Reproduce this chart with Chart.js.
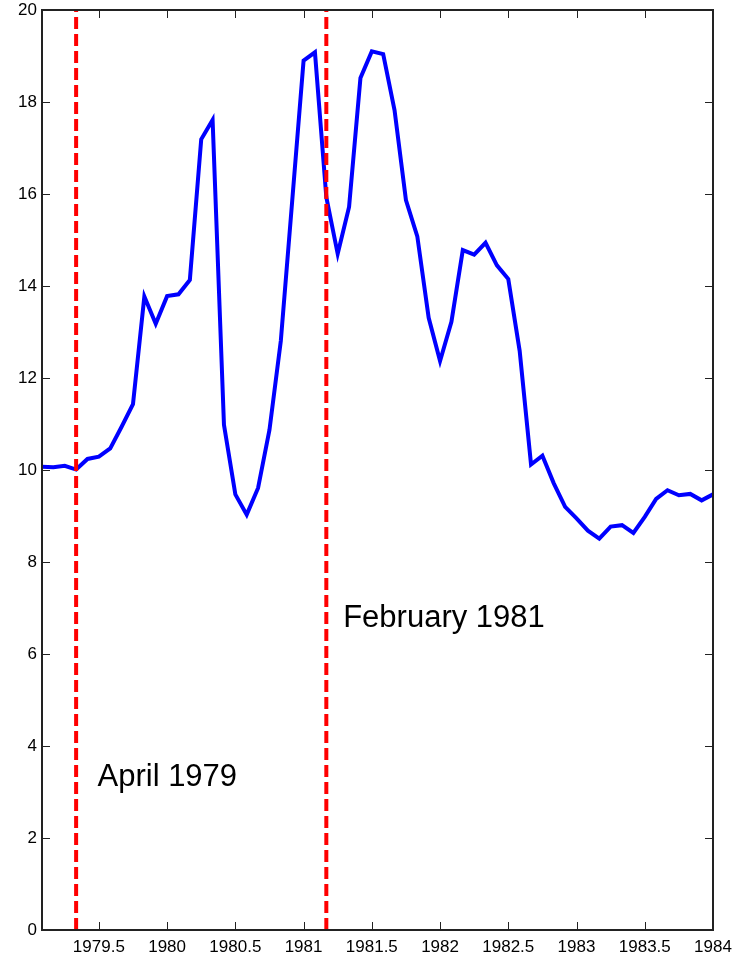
<!DOCTYPE html>
<html>
<head>
<meta charset="utf-8">
<script src="https://cdn.jsdelivr.net/npm/chart.js@4/dist/chart.umd.min.js"></script>
<style>
  html, body { margin: 0; padding: 0; background: #fff; }
  #wrap { width: 746px; height: 957px; }
</style>
</head>
<body>
<div id="wrap"><canvas id="rateChart" width="746" height="957"></canvas></div>
<script>
// monthly values, January 1979 .. December 1983 (month m plotted at year + m/12)
const startYear = 1979;
const rates = [
  10.07, 10.06, 10.09, 10.01, 10.24, 10.29, 10.47, 10.94, 11.43, 13.77, 13.18, 13.78,
  13.82, 14.13, 17.19, 17.61, 10.98, 9.47, 9.03, 9.61, 10.87, 12.81, 15.85, 18.90,
  19.08, 15.93, 14.70, 15.72, 18.52, 19.10, 19.04, 17.82, 15.87, 15.08, 13.31, 12.37,
  13.22, 14.78, 14.68, 14.94, 14.45, 14.15, 12.59, 10.12, 10.31, 9.71, 9.20, 8.95,
  8.68, 8.51, 8.77, 8.80, 8.63, 8.98, 9.37, 9.56, 9.45, 9.48, 9.34, 9.47
];

const xTicks = [1979.5, 1980, 1980.5, 1981, 1981.5, 1982, 1982.5, 1983, 1983.5, 1984];
const yTicks = [0, 2, 4, 6, 8, 10, 12, 14, 16, 18, 20];

const eventDates = [1979 + 4 / 12, 1981 + 2 / 12];
const eventLabels = ['April 1979', 'February 1981'];

// where each event caption sits, in axis units (left edge, baseline)
const captionAnchors = [[1979.49, 3.13], [1981.29, 6.59]];

const points = rates.map((r, i) => ({ x: startYear + (i + 1) / 12, y: r }));

const FONT = '"Liberation Sans", Arial, Helvetica, sans-serif';

// MATLAB style box with inward ticks on all four sides, plus the captions
const boxPlugin = {
  id: 'box',
  afterDatasetsDraw(chart) {
    const { ctx, chartArea: a, scales } = chart;
    const tl = 8;
    ctx.save();
    ctx.strokeStyle = '#222';
    ctx.lineWidth = 1;
    ctx.beginPath();
    xTicks.forEach(v => {
      const px = Math.round(scales.x.getPixelForValue(v)) + 0.5;
      ctx.moveTo(px, a.bottom); ctx.lineTo(px, a.bottom - tl);
      ctx.moveTo(px, a.top); ctx.lineTo(px, a.top + tl);
    });
    yTicks.forEach(v => {
      const py = Math.round(scales.y.getPixelForValue(v)) + 0.5;
      ctx.moveTo(a.left, py); ctx.lineTo(a.left + tl, py);
      ctx.moveTo(a.right, py); ctx.lineTo(a.right - tl, py);
    });
    ctx.stroke();

    ctx.lineWidth = 2;
    ctx.strokeStyle = '#222';
    ctx.strokeRect(a.left, a.top, a.right - a.left, a.bottom - a.top);

    ctx.fillStyle = '#000';
    ctx.font = '31px ' + FONT;
    ctx.textBaseline = 'alphabetic';
    ctx.textAlign = 'left';
    eventLabels.forEach((txt, i) => {
      const [vx, vy] = captionAnchors[i];
      ctx.fillText(txt, scales.x.getPixelForValue(vx), scales.y.getPixelForValue(vy));
    });
    ctx.restore();
  }
};

const datasets = [{
  data: points,
  borderColor: '#0000ff',
  borderWidth: 4,
  pointRadius: 0,
  tension: 0,
  order: 2
}];

eventDates.forEach(d => {
  datasets.push({
    data: [{ x: d, y: 0 }, { x: d, y: 20 }],
    borderColor: '#ff0000',
    borderWidth: 4,
    borderDash: [12, 5],
    borderCapStyle: 'butt',
    pointRadius: 0,
    order: 1
  });
});

new Chart(document.getElementById('rateChart'), {
  type: 'line',
  data: { datasets },
  options: {
    responsive: false,
    animation: false,
    layout: { padding: { top: 10, right: 33, left: 0, bottom: 0 } },
    plugins: { legend: { display: false }, tooltip: { enabled: false } },
    scales: {
      x: {
        type: 'linear',
        min: startYear + 1 / 12,
        max: 1984,
        afterBuildTicks: s => { s.ticks = xTicks.map(v => ({ value: v })); },
        afterFit: s => { s.height = 27; s.paddingLeft = 0; s.paddingRight = 0; },
        grid: { display: false, drawTicks: false },
        border: { display: false },
        ticks: {
          autoSkip: false,
          maxRotation: 0,
          padding: 7,
          color: '#000',
          font: { family: FONT, size: 17 },
          callback: v => String(v)
        }
      },
      y: {
        min: 0,
        max: 20,
        afterBuildTicks: s => { s.ticks = yTicks.map(v => ({ value: v })); },
        afterFit: s => { s.width = 42; s.paddingTop = 0; s.paddingBottom = 0; },
        grid: { display: false, drawTicks: false },
        border: { display: false },
        ticks: {
          padding: 5,
          color: '#000',
          font: { family: FONT, size: 17 },
          callback: v => String(v)
        }
      }
    }
  },
  plugins: [boxPlugin]
});
</script>
</body>
</html>
